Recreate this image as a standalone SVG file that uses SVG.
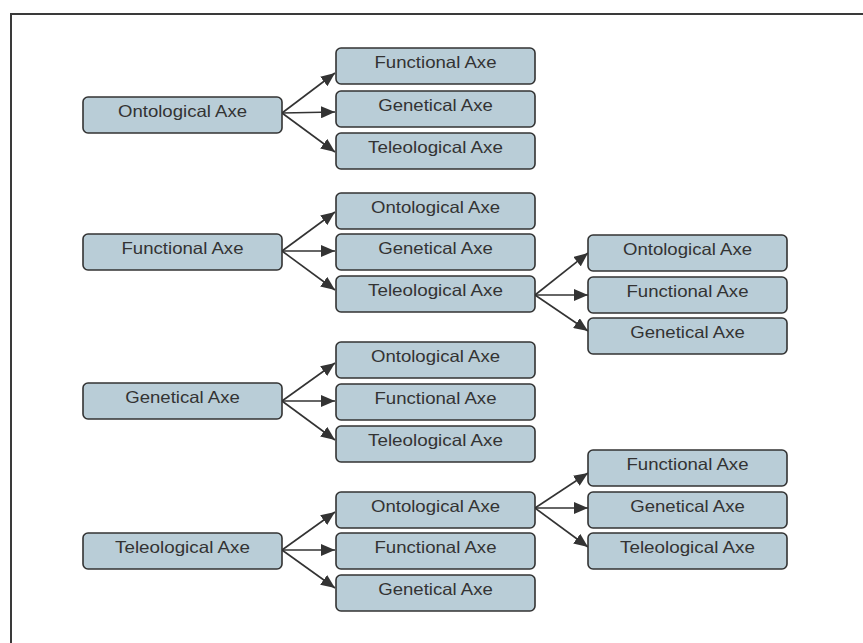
<svg xmlns="http://www.w3.org/2000/svg" width="863" height="643" viewBox="0 0 863 643">
<style>
.box{fill:#b9cdd7;stroke:#333;stroke-width:1.6}
.t{font-family:"Liberation Sans",Arial,sans-serif;font-size:16.5px;fill:#333;text-anchor:middle}
.c{stroke:#333;stroke-width:1.6;fill:none;marker-end:url(#ah)}
</style>
<defs>
<marker id="ah" markerUnits="userSpaceOnUse" markerWidth="14" markerHeight="12" viewBox="0 0 14 12" refX="14" refY="6" orient="auto">
<path d="M0,0 L14,6 L0,12 Z" fill="#333"/>
</marker>
</defs>
<rect x="11" y="14" width="900" height="700" fill="none" stroke="#3a3a3a" stroke-width="2"/>
<g id="connectors">
<path class="c" d="M282,113 L335,73"/>
<path class="c" d="M282,113 L335,112"/>
<path class="c" d="M282,113 L335,152"/>
<path class="c" d="M282,251 L335,212"/>
<path class="c" d="M282,251 L335,251"/>
<path class="c" d="M282,251 L335,290"/>
<path class="c" d="M535,295 L588,253"/>
<path class="c" d="M535,295 L588,295"/>
<path class="c" d="M535,295 L588,331"/>
<path class="c" d="M282,401 L335,363"/>
<path class="c" d="M282,401 L335,401"/>
<path class="c" d="M282,401 L335,440"/>
<path class="c" d="M282,550 L335,512"/>
<path class="c" d="M282,550 L335,550"/>
<path class="c" d="M282,550 L335,588"/>
<path class="c" d="M535,508 L588,473"/>
<path class="c" d="M535,508 L588,508"/>
<path class="c" d="M535,508 L588,547"/>
</g>
<g id="n1"><rect class="box" x="83" y="97" width="199" height="36" rx="5"/><text class="t" x="182.5" y="117" textLength="129" lengthAdjust="spacingAndGlyphs">Ontological Axe</text></g>
<g id="n1a"><rect class="box" x="336" y="48" width="199" height="36" rx="5"/><text class="t" x="435.5" y="68" textLength="122" lengthAdjust="spacingAndGlyphs">Functional Axe</text></g>
<g id="n1b"><rect class="box" x="336" y="91" width="199" height="36" rx="5"/><text class="t" x="435.5" y="111" textLength="114.5" lengthAdjust="spacingAndGlyphs">Genetical Axe</text></g>
<g id="n1c"><rect class="box" x="336" y="133" width="199" height="36" rx="5"/><text class="t" x="435.5" y="153" textLength="135" lengthAdjust="spacingAndGlyphs">Teleological Axe</text></g>

<g id="n2"><rect class="box" x="83" y="234" width="199" height="36" rx="5"/><text class="t" x="182.5" y="254" textLength="122" lengthAdjust="spacingAndGlyphs">Functional Axe</text></g>
<g id="n2a"><rect class="box" x="336" y="193" width="199" height="36" rx="5"/><text class="t" x="435.5" y="213" textLength="129" lengthAdjust="spacingAndGlyphs">Ontological Axe</text></g>
<g id="n2b"><rect class="box" x="336" y="234" width="199" height="36" rx="5"/><text class="t" x="435.5" y="254" textLength="114.5" lengthAdjust="spacingAndGlyphs">Genetical Axe</text></g>
<g id="n2c"><rect class="box" x="336" y="276" width="199" height="36" rx="5"/><text class="t" x="435.5" y="296" textLength="135" lengthAdjust="spacingAndGlyphs">Teleological Axe</text></g>
<g id="n2c1"><rect class="box" x="588" y="235" width="199" height="36" rx="5"/><text class="t" x="687.5" y="255" textLength="129" lengthAdjust="spacingAndGlyphs">Ontological Axe</text></g>
<g id="n2c2"><rect class="box" x="588" y="277" width="199" height="36" rx="5"/><text class="t" x="687.5" y="297" textLength="122" lengthAdjust="spacingAndGlyphs">Functional Axe</text></g>
<g id="n2c3"><rect class="box" x="588" y="318" width="199" height="36" rx="5"/><text class="t" x="687.5" y="338" textLength="114.5" lengthAdjust="spacingAndGlyphs">Genetical Axe</text></g>

<g id="n3"><rect class="box" x="83" y="383" width="199" height="36" rx="5"/><text class="t" x="182.5" y="403" textLength="114.5" lengthAdjust="spacingAndGlyphs">Genetical Axe</text></g>
<g id="n3a"><rect class="box" x="336" y="342" width="199" height="36" rx="5"/><text class="t" x="435.5" y="362" textLength="129" lengthAdjust="spacingAndGlyphs">Ontological Axe</text></g>
<g id="n3b"><rect class="box" x="336" y="384" width="199" height="36" rx="5"/><text class="t" x="435.5" y="404" textLength="122" lengthAdjust="spacingAndGlyphs">Functional Axe</text></g>
<g id="n3c"><rect class="box" x="336" y="426" width="199" height="36" rx="5"/><text class="t" x="435.5" y="446" textLength="135" lengthAdjust="spacingAndGlyphs">Teleological Axe</text></g>

<g id="n4"><rect class="box" x="83" y="533" width="199" height="36" rx="5"/><text class="t" x="182.5" y="553" textLength="135" lengthAdjust="spacingAndGlyphs">Teleological Axe</text></g>
<g id="n4a"><rect class="box" x="336" y="492" width="199" height="36" rx="5"/><text class="t" x="435.5" y="512" textLength="129" lengthAdjust="spacingAndGlyphs">Ontological Axe</text></g>
<g id="n4b"><rect class="box" x="336" y="533" width="199" height="36" rx="5"/><text class="t" x="435.5" y="553" textLength="122" lengthAdjust="spacingAndGlyphs">Functional Axe</text></g>
<g id="n4c"><rect class="box" x="336" y="575" width="199" height="36" rx="5"/><text class="t" x="435.5" y="595" textLength="114.5" lengthAdjust="spacingAndGlyphs">Genetical Axe</text></g>
<g id="n4a1"><rect class="box" x="588" y="450" width="199" height="36" rx="5"/><text class="t" x="687.5" y="470" textLength="122" lengthAdjust="spacingAndGlyphs">Functional Axe</text></g>
<g id="n4a2"><rect class="box" x="588" y="492" width="199" height="36" rx="5"/><text class="t" x="687.5" y="512" textLength="114.5" lengthAdjust="spacingAndGlyphs">Genetical Axe</text></g>
<g id="n4a3"><rect class="box" x="588" y="533" width="199" height="36" rx="5"/><text class="t" x="687.5" y="553" textLength="135" lengthAdjust="spacingAndGlyphs">Teleological Axe</text></g>
</svg>
